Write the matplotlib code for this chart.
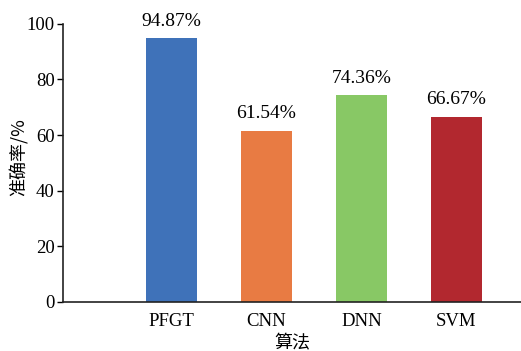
import matplotlib
matplotlib.use("Agg")
import matplotlib.pyplot as plt

# Accuracy of each algorithm (%)
algorithms = ["PFGT", "CNN", "DNN", "SVM"]
accuracy = [94.87, 61.54, 74.36, 66.67]
colors = ["#3F72B9", "#E87B43", "#88C865", "#B2282F"]
yticks = [0, 20, 40, 60, 80, 100]

plt.rcParams["font.family"] = ["Liberation Serif", "Noto Sans CJK SC"]

fig = plt.figure(figsize=(5.21, 3.51), dpi=100)
ax = fig.add_axes([0.121, 0.140, 0.879, 0.792])

positions = list(range(1, len(algorithms) + 1))
bars = ax.bar(positions, accuracy, width=0.53, color=colors)

for b, v in zip(bars, accuracy):
    ax.annotate(f"{v:.2f}%", (b.get_x() + b.get_width() / 2, v),
                xytext=(0, 6), textcoords="offset points",
                ha="center", va="bottom", fontsize=14)

ax.set_xlim(-0.14, 4.68)
ax.set_ylim(0, 100)
ax.set_yticks(yticks)
ax.set_xticks(positions)
ax.set_xticklabels(algorithms)
ax.tick_params(axis="x", length=0, labelsize=13.5, pad=8)
ax.tick_params(axis="y", direction="out", length=4, width=1, labelsize=13.5, pad=2)

for s in ["top", "right"]:
    ax.spines[s].set_visible(False)
for s in ["left", "bottom"]:
    ax.spines[s].set_linewidth(1.2)
    ax.spines[s].set_color("#222222")

ax.set_ylabel("准确率/%", family=["Noto Sans CJK SC", "Liberation Serif"], fontsize=13)
ax.yaxis.set_label_coords(-0.076, 0.52)
ax.set_xlabel("算法", family=["Noto Sans CJK SC"], fontsize=13, labelpad=3)

fig.savefig("out.png", dpi=100)
